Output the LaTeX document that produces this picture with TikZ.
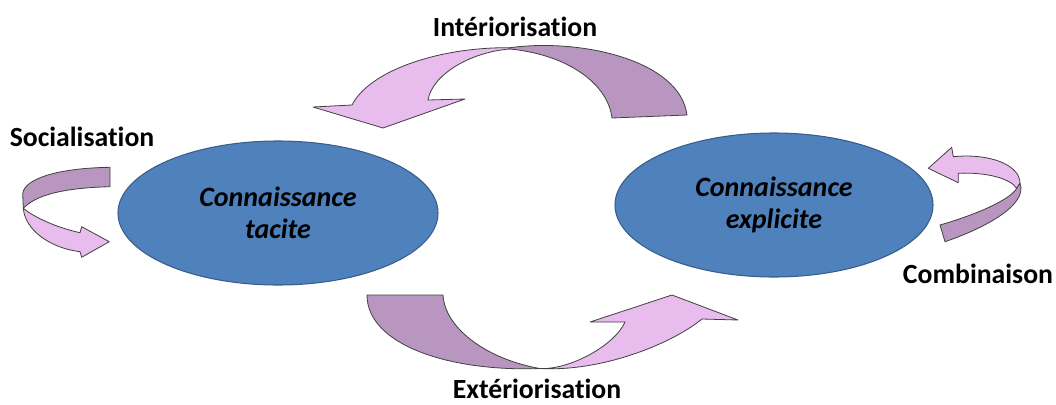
\documentclass[tikz,border=0pt]{standalone}
\usepackage{fontspec}
\setmainfont{Carlito}[Ligatures=NoCommon]
\usetikzlibrary{shapes.geometric}
\definecolor{knowfill}{RGB}{79,129,189}
\definecolor{knowline}{RGB}{56,93,138}
\definecolor{bandback}{RGB}{184,150,191}
\definecolor{bandfront}{RGB}{232,188,236}

\begin{document}
\begin{tikzpicture}[x=0.75pt,y=-0.75pt,know/.style={ellipse,draw=knowline,fill=knowfill,line width=0.8pt,inner sep=0pt,align=center,font=\bfseries\itshape\fontsize{21}{24}\selectfont}, mode/.style={anchor=base,font=\bfseries\fontsize{20.8}{24}\selectfont}, back/.style={draw=black!75,line width=0.6pt,fill=bandback,line join=round}, front/.style={draw=black!75,line width=0.6pt,fill=bandfront,line join=round}]
\useasboundingbox (0,0) rectangle (1056,404);

% the two kinds of knowledge
\node(tacite)[know,minimum width=240pt,minimum height=108pt] at (278,213) {Connaissance\\tacite};
\node(explicite)[know,minimum width=238.5pt,minimum height=108pt] at (774,205) {Connaissance\\explicite};

% Interiorisation (top)
\draw [back] (510,47.7) .. controls (580,38) and (680,60) .. (687,115) -- (612,118) .. controls (608,85) and (570,55) .. (510,49) -- cycle;
\draw [front] (510,47.7) .. controls (440,47) and (370,70) .. (352,105) -- (313,107) -- (383,128) -- (465,99) -- (428,100) .. controls (432,75) and (470,52) .. (510,49) -- cycle;

% Exteriorisation (bottom)
\draw [back] (367,295) -- (443,295) .. controls (445,330) and (490,360) .. (540,368.5) .. controls (450,372) and (367,345) .. (367,295) -- cycle;
\draw [front] (540,368.5) .. controls (600,372) and (670,345) .. (702,319) -- (738,320) -- (672,295) -- (590,322) -- (625,322) .. controls (615,345) and (570,370) .. (540,368.5) -- cycle;

% Socialisation (left)
\draw [back] (110,167.3) .. controls (60,168) and (25,178) .. (22.7,193.3) -- (23.3,208.3) .. controls (35,196) and (60,188) .. (110,186.7) -- cycle;
\draw [front] (23.3,208.3) .. controls (25,230) and (50,248) .. (80,251.7) -- (81.7,257.3) -- (109.3,241.7) -- (81.7,226.7) -- (80,232.7) .. controls (50,226) and (30,214) .. (23.3,208.3) -- cycle;

% Combinaison (right)
\draw [front] (928.3,168.3) -- (951.7,147.3) -- (953.3,156.7) .. controls (990,153) and (1020,165) .. (1020,183.3) -- (1016.7,188.3) .. controls (1010,178) and (985,172) .. (958.3,173.3) -- (958.3,182.7) -- cycle;
\draw [back] (1020,183.3) .. controls (1028,205) and (985,228) .. (945,241.7) -- (940,225) .. controls (975,215) and (1010,200) .. (1016.7,188.3) -- cycle;

% labels
\node(inter)[mode] at (515,36) {Intériorisation};
\node(exter)[mode,inner sep=1pt] at (537,398) {Extériorisation};
\node(social)[mode] at (82,146) {Socialisation};
\node(combi)[mode] at (978,283) {Combinaison};
\end{tikzpicture}
\end{document}
